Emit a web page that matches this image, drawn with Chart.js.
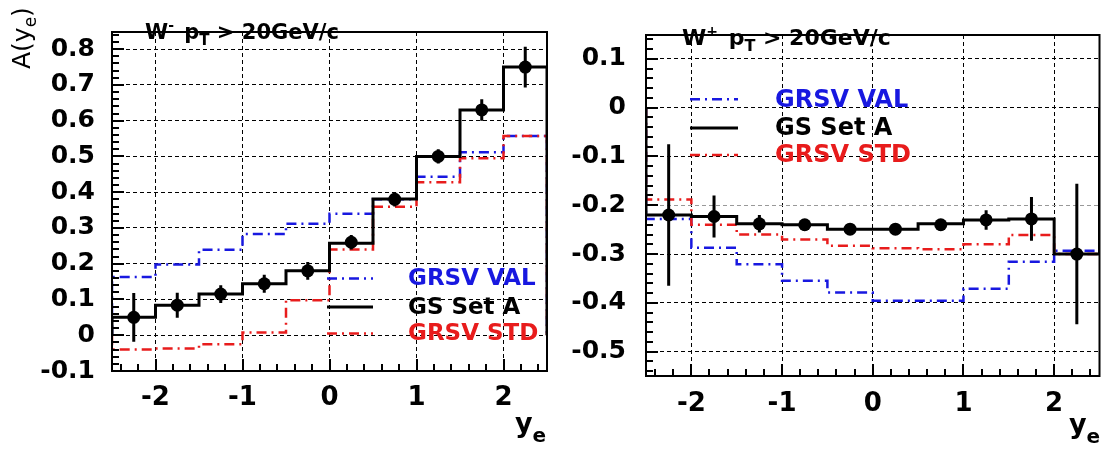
<!DOCTYPE html>
<html><head><meta charset="utf-8">
<script src="https://cdn.jsdelivr.net/npm/chart.js@4.4.0/dist/chart.umd.min.js"></script>
<style>
html,body{margin:0;padding:0;background:#fff;width:1106px;height:450px;overflow:hidden}
#c1{position:absolute;left:0;top:0}
#c2{position:absolute;left:560px;top:0}
</style></head><body>
<canvas id="c1" width="560" height="450" style="width:560px;height:450px"></canvas>
<canvas id="c2" width="546" height="450" style="width:546px;height:450px"></canvas>
<script>
// ---------- shared binning / axis labels ----------
const binEdges   = [-2.5,-2,-1.5,-1,-0.5,0,0.5,1,1.5,2,2.5];
const binCenters = [-2.25,-1.75,-1.25,-0.75,-0.25,0.25,0.75,1.25,1.75,2.25];
const xTickValues = [-2,-1,0,1,2];
const xTickLabels = ['-2','-1','0','1','2'];
const legendLabels = ['GRSV VAL','GS Set A','GRSV STD'];

// ---------- W- panel ----------
const wmTitle = ['W','-',' p','T',' > 20GeV/c'];
const wmGsSetA  = [0.05,0.084,0.115,0.144,0.18,0.257,0.381,0.50,0.63,0.75];
const wmGrsvVal = [0.163,0.198,0.239,0.283,0.312,0.34,0.38,0.443,0.512,0.557];
const wmGrsvStd = [-0.04,-0.037,-0.025,0.008,0.098,0.24,0.359,0.428,0.495,0.557];
const wmPoints  = [0.05,0.084,0.115,0.144,0.18,0.26,0.38,0.50,0.63,0.75];
const wmErrors  = [0.068,0.035,0.025,0.025,0.025,0.02,0.02,0.02,0.03,0.057];
const wmYTickValues = [-0.1,0,0.1,0.2,0.3,0.4,0.5,0.6,0.7,0.8];
const wmYTickLabels = ['-0.1','0','0.1','0.2','0.3','0.4','0.5','0.6','0.7','0.8'];

// ---------- W+ panel ----------
const wpTitle = ['W','+',' p','T',' > 20GeV/c'];
const wpGsSetA  = [-0.22,-0.223,-0.238,-0.24,-0.249,-0.249,-0.238,-0.23,-0.228,-0.30];
const wpGrsvVal = [-0.228,-0.287,-0.321,-0.355,-0.379,-0.396,-0.396,-0.371,-0.316,-0.293];
const wpGrsvStd = [-0.188,-0.24,-0.26,-0.27,-0.283,-0.288,-0.29,-0.28,-0.261,-0.30];
const wpPoints  = [-0.22,-0.223,-0.238,-0.24,-0.249,-0.249,-0.24,-0.23,-0.228,-0.30];
const wpErrors  = [0.145,0.043,0.018,0.01,0.008,0.008,0.01,0.02,0.045,0.144];
const wpYTickValues = [-0.5,-0.4,-0.3,-0.2,-0.1,0,0.1];
const wpYTickLabels = ['-0.5','-0.4','-0.3','-0.2','-0.1','0','0.1'];

const BLUE = '#1818e0', RED = '#e81c1c', BLACK = '#000';
const DASH_DOT = [10,5,2,5];
const X_MINOR = 0.2, Y_MINOR = 0.02;

function histPoints(vals){
  const n = binEdges.length - 1;
  const pts = [{x: binEdges[0], y: 0}];
  vals.forEach((v,i) => pts.push({x: binEdges[i], y: v}));
  pts.push({x: binEdges[n], y: vals[vals.length-1]});
  pts.push({x: binEdges[n], y: 0});
  return pts;
}

function drawRich(ctx, x, base, parts, color){
  ctx.fillStyle = color; ctx.textBaseline = 'alphabetic'; ctx.textAlign = 'left';
  let cx = x;
  parts.forEach(p => {
    ctx.font = (p.w || 'bold') + ' ' + p.size + 'px "DejaVu Sans"';
    ctx.fillText(p.t, cx, base + (p.dy || 0));
    cx += ctx.measureText(p.t).width + (p.gap || 0);
  });
}

function makeChart(id, cfg){
  const W = cfg.W, H = 450;

  const errorBars = {
    id: 'errorBars',
    beforeDatasetDraw(chart, args){
      if (args.index !== 0) return;
      const ctx = chart.ctx, x = chart.scales.x, y = chart.scales.y;
      ctx.save();
      ctx.setLineDash([]);
      ctx.strokeStyle = '#000'; ctx.lineWidth = 3;
      ctx.beginPath();
      binCenters.forEach((c,i) => {
        const px = x.getPixelForValue(c);
        ctx.moveTo(px, y.getPixelForValue(cfg.points[i] + cfg.errors[i]));
        ctx.lineTo(px, y.getPixelForValue(cfg.points[i] - cfg.errors[i]));
      });
      ctx.stroke();
      ctx.restore();
    }
  };

  const frameTicks = {
    id: 'frameTicks',
    afterDraw(chart){
      const ctx = chart.ctx, a = chart.chartArea, x = chart.scales.x, y = chart.scales.y;
      const L = a.left, R = a.right, T = a.top, B = a.bottom;
      ctx.save();
      ctx.setLineDash([]);
      ctx.fillStyle = '#000';
      for (let k = Math.ceil(x.min / X_MINOR - 1e-6); k <= Math.floor(x.max / X_MINOR + 1e-6); k++){
        const px = x.getPixelForValue(k * X_MINOR);
        const len = (k % 5 === 0) ? 12 : 7;
        ctx.fillRect(Math.round(px) - 1, B - len, 2, len);
      }
      for (let k = Math.ceil(cfg.ymin / Y_MINOR - 1e-6); k <= Math.floor(cfg.ymax / Y_MINOR + 1e-6); k++){
        const py = y.getPixelForValue(k * Y_MINOR);
        const len = (k % 5 === 0) ? 12 : 7;
        ctx.fillRect(L, Math.round(py) - 1, len, 2);
      }
      ctx.strokeStyle = '#000';
      ctx.lineWidth = 2;
      ctx.strokeRect(L, T, R - L, B - T);

      const o = cfg.texts, t = o.title;
      drawRich(ctx, o.titleX, o.titleY, [
        {t:t[0], size:o.titleSize},
        {t:t[1], size:Math.round(o.titleSize*0.65), dy:-9, gap:3},
        {t:t[2], size:o.titleSize},
        {t:t[3], size:Math.round(o.titleSize*0.72), dy:6},
        {t:t[4], size:o.titleSize}
      ], '#000');
      const cols = [BLUE, BLACK, RED], dashes = [DASH_DOT, [], DASH_DOT];
      legendLabels.forEach((lab,i) => {
        const yy = o.legY[i];
        ctx.setLineDash(dashes[i]); ctx.lineWidth = i===1 ? 3 : 2.5; ctx.strokeStyle = cols[i];
        ctx.beginPath(); ctx.moveTo(o.legX0, yy); ctx.lineTo(o.legX1, yy); ctx.stroke();
        ctx.setLineDash([]);
        ctx.font = 'bold ' + o.legSize + 'px "DejaVu Sans"';
        ctx.fillStyle = cols[i]; ctx.textBaseline = 'middle'; ctx.textAlign = 'left';
        ctx.fillText(lab, o.legTextX, yy + 1);
      });
      drawRich(ctx, o.xtX, o.xtY, [{t:'y', size:27}, {t:'e', size:20, dy:10}], '#000');
      if (o.ytitle){
        ctx.translate(o.ytX, o.ytY);
        ctx.rotate(-Math.PI/2);
        drawRich(ctx, 0, 0, [{t:'A(y', size:25, w:'normal'}, {t:'e', size:17, dy:6, w:'normal'}, {t:')', size:25, w:'normal'}], '#000');
      }
      ctx.restore();
    }
  };

  return new Chart(document.getElementById(id), {
    type: 'line',
    data: { datasets: [
      { type:'scatter', data: binCenters.map((c,i)=>({x:c, y:cfg.points[i]})), pointRadius:6.5,
        pointBackgroundColor:'#000', pointBorderWidth:0, showLine:false },
      { data: histPoints(cfg.gs), stepped:true, borderColor:BLACK, borderWidth:3, pointRadius:0, fill:false },
      { data: histPoints(cfg.std), stepped:true, borderColor:RED, borderWidth:2.5, borderDash:DASH_DOT, pointRadius:0, fill:false },
      { data: histPoints(cfg.val), stepped:true, borderColor:BLUE, borderWidth:2.5, borderDash:DASH_DOT, pointRadius:0, fill:false }
    ]},
    options: {
      responsive:false, animation:false, events:[], devicePixelRatio:1,
      layout: { padding: { left:0, top:cfg.top, right: W - cfg.right, bottom:0 } },
      plugins: { legend:{display:false}, tooltip:{enabled:false} },
      scales: {
        x: { type:'linear', min:-2.5, max:2.5,
          afterBuildTicks: s => { s.ticks = xTickValues.map(v=>({value:v})); },
          afterFit: s => { s.height = H - cfg.bottom; },
          ticks: { callback:(v,i)=>xTickLabels[i], autoSkip:false, maxRotation:0, color:'#000', padding:cfg.xPad,
                   font:{family:'DejaVu Sans', weight:'bold', size:26} },
          grid: { color:'#000', lineWidth:1, drawTicks:false },
          border: { display:false, dash:[4,3] }
        },
        y: { type:'linear', min:cfg.ymin, max:cfg.ymax,
          afterBuildTicks: s => { s.ticks = cfg.yTicks.map(v=>({value:v})); },
          afterFit: s => { s.width = cfg.left; },
          ticks: { callback:(v,i)=>cfg.yLabels[i], autoSkip:false, color:'#000', padding:cfg.yPad,
                   font:{family:'DejaVu Sans', weight:'bold', size:25} },
          grid: { color: c => (c.tick && c.tick.value === cfg.grayGrid) ? '#999' : '#000', lineWidth:1, drawTicks:false },
          border: { display:false, dash:[4,3] }
        }
      }
    },
    plugins: [errorBars, frameTicks]
  });
}

makeChart('c1', {
  W:560, left:112, right:547, top:3, bottom:371, ymin:-0.1, ymax:0.848, xPad:12, yPad:17,
  yTicks: wmYTickValues, yLabels: wmYTickLabels, grayGrid: null,
  gs: wmGsSetA, val: wmGrsvVal, std: wmGrsvStd, points: wmPoints, errors: wmErrors,
  texts: { title: wmTitle, titleX:145, titleY:39, titleSize:21,
           legY:[278.5,307,333.5], legX0:327, legX1:373, legTextX:408, legSize:23,
           xtX:515, xtY:432, ytitle:true, ytX:30, ytY:69 }
});
makeChart('c2', {
  W:546, left:86, right:542, top:9, bottom:376, ymin:-0.55, ymax:0.149, xPad:13, yPad:20,
  yTicks: wpYTickValues, yLabels: wpYTickLabels, grayGrid: -0.2,
  gs: wpGsSetA, val: wpGrsvVal, std: wpGrsvStd, points: wpPoints, errors: wpErrors,
  texts: { title: wpTitle, titleX:122, titleY:45, titleSize:22,
           legY:[99.3,128,155], legX0:130, legX1:178, legTextX:215, legSize:24,
           xtX:509, xtY:433, ytitle:false }
});
</script>
</body></html>
